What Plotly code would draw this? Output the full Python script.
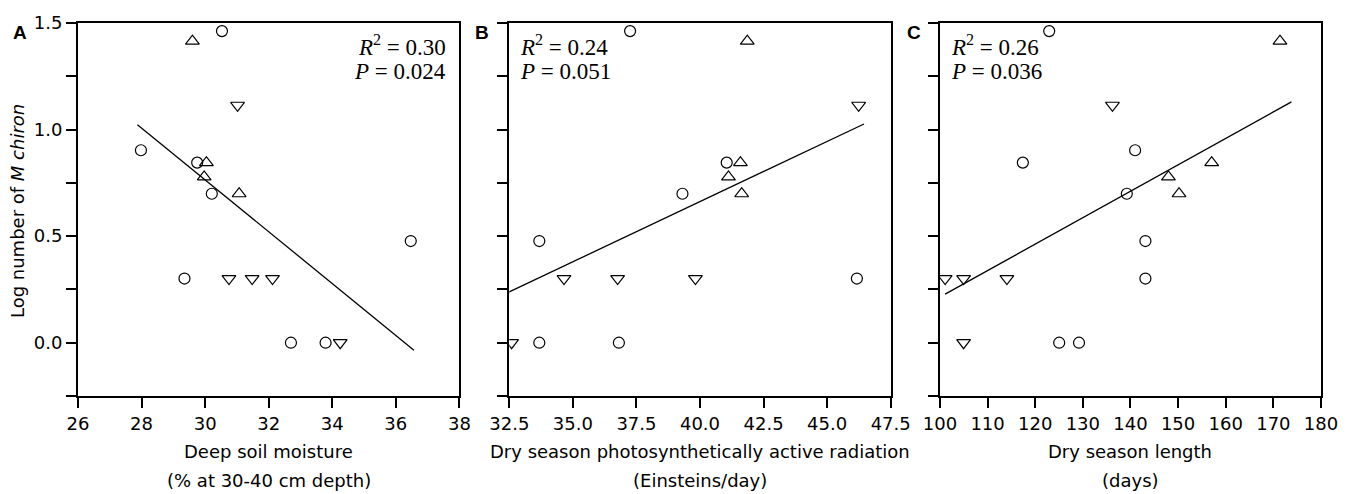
import plotly.graph_objects as go

# ---------------- data ----------------
# Panel A: deep soil moisture
a_circ_x = [30.53, 27.98, 29.75, 30.21, 36.47, 29.35, 32.70, 33.79]
a_circ_y = [1.462, 0.903, 0.845, 0.699, 0.477, 0.301, 0.0, 0.0]
a_up_x = [29.60, 30.04, 29.97, 31.07]
a_up_y = [1.415, 0.845, 0.778, 0.699]
a_dn_x = [31.02, 30.75, 31.48, 32.12, 34.25]
a_dn_y = [1.114, 0.301, 0.301, 0.301, 0.0]
a_fit_x = [27.87, 36.57]
a_fit_y = [1.023, -0.035]

# Panel B: dry season PAR
b_circ_x = [37.25, 41.05, 39.31, 33.68, 46.17, 33.68, 36.81]
b_circ_y = [1.462, 0.845, 0.699, 0.477, 0.301, 0.0, 0.0]
b_up_x = [41.86, 41.59, 41.12, 41.64]
b_up_y = [1.415, 0.845, 0.778, 0.699]
b_dn_x = [46.24, 34.65, 36.76, 39.82, 32.59]
b_dn_y = [1.114, 0.301, 0.301, 0.301, 0.0]
b_fit_x = [32.47, 46.45]
b_fit_y = [0.237, 1.026]

# Panel C: dry season length
c_circ_x = [122.94, 140.98, 117.41, 139.23, 143.14, 143.14, 125.04, 129.20]
c_circ_y = [1.462, 0.903, 0.845, 0.699, 0.477, 0.301, 0.0, 0.0]
c_up_x = [171.39, 157.05, 147.97, 150.20]
c_up_y = [1.415, 0.845, 0.778, 0.699]
c_dn_x = [136.22, 101.10, 104.97, 114.06, 104.97]
c_dn_y = [1.114, 0.301, 0.301, 0.301, 0.0]
c_fit_x = [101.1, 173.8]
c_fit_y = [0.228, 1.130]

panel_letters = ["A", "B", "C"]
stats_r2 = ["0.30", "0.24", "0.26"]
stats_p = ["0.024", "0.051", "0.036"]
x_titles = [("Deep soil moisture", "(% at 30-40 cm depth)"),
            ("Dry season photosynthetically active radiation", "(Einsteins/day)"),
            ("Dry season length", "(days)")]
x_ranges = [(26, 38, 2), (32.5, 47.5, 2.5), (100, 180, 10)]
x_tickformats = ["d", ".1f", "d"]
y_range = (-0.25, 1.5)
y_major_step = 0.5
y_minor_step = 0.25
y_title = "Log number of <i>M chiron</i>"

panels = [
    (a_circ_x, a_circ_y, a_up_x, a_up_y, a_dn_x, a_dn_y, a_fit_x, a_fit_y),
    (b_circ_x, b_circ_y, b_up_x, b_up_y, b_dn_x, b_dn_y, b_fit_x, b_fit_y),
    (c_circ_x, c_circ_y, c_up_x, c_up_y, c_dn_x, c_dn_y, c_fit_x, c_fit_y),
]

# ---------------- figure ----------------
W, H = 1353, 494
ML, MR, MT, MB = 78, 30, 15, 98
plot_w = W - ML - MR
plot_h = H - MT - MB
panel_px = [(78, 460), (510, 892), (941.3, 1323)]
domains = [[(l - ML) / plot_w, (r - ML) / plot_w] for l, r in panel_px]


def py2paper(py):
    return (H - MB - py) / plot_h


def px2paper(px):
    return (px - ML) / plot_w


SANS = "DejaVu Sans"
SERIF = "Liberation Serif"
TICK_SIZE = 18

fig = go.Figure()
for i, (cx, cy, ux, uy, dx, dy, fx, fy) in enumerate(panels):
    suf = "" if i == 0 else str(i + 1)
    xa, ya = "x" + suf, "y" + suf
    fig.add_trace(go.Scatter(x=fx, y=fy, mode="lines", xaxis=xa, yaxis=ya,
                             line=dict(color="black", width=1.3), showlegend=False))
    fig.add_trace(go.Scatter(x=cx, y=cy, mode="markers", xaxis=xa, yaxis=ya,
                             marker=dict(symbol="circle-open", size=11,
                                         color="black", line=dict(width=1.2)),
                             showlegend=False))
    fig.add_trace(go.Scatter(x=ux, y=uy, mode="markers", xaxis=xa, yaxis=ya,
                             marker=dict(symbol="triangle-up-open", size=12,
                                         color="black", line=dict(width=1.2)),
                             showlegend=False))
    fig.add_trace(go.Scatter(x=dx, y=dy, mode="markers", xaxis=xa, yaxis=ya,
                             marker=dict(symbol="triangle-down-open", size=12,
                                         color="black", line=dict(width=1.2)),
                             showlegend=False))

    x0, x1, dt = x_ranges[i]
    fig.update_layout(**{
        "xaxis" + suf: dict(domain=domains[i], range=[x0, x1], tick0=x0, dtick=dt,
                            tickformat=x_tickformats[i], ticks="outside", ticklen=10,
                            tickwidth=2, tickcolor="black", showline=True, linewidth=2,
                            linecolor="black", mirror=True, showgrid=False,
                            zeroline=False, anchor=ya,
                            tickfont=dict(family=SANS, size=TICK_SIZE, color="black")),
        "yaxis" + suf: dict(domain=[0, 1], range=list(y_range), tick0=0,
                            dtick=y_major_step, tickformat=".1f",
                            showticklabels=(i == 0),
                            ticks="outside", ticklen=10, tickwidth=2,
                            tickcolor="black", showline=True, linewidth=2,
                            linecolor="black", mirror=True, showgrid=False,
                            zeroline=False, anchor=xa,
                            minor=dict(tick0=0, dtick=y_minor_step, ticks="outside",
                                       ticklen=10, tickwidth=2, tickcolor="black",
                                       showgrid=False),
                            tickfont=dict(family=SANS, size=TICK_SIZE, color="black")),
    })

    lines = ["<i>R</i><sup>2</sup> = " + stats_r2[i], "<i>P</i> = " + stats_p[i]]
    for line_txt, py in zip(lines, (38, 65)):
        if i == 0:
            fig.add_annotation(xref=xa + " domain", yref="paper", x=0.97, y=py2paper(py),
                               xanchor="right", yanchor="middle", text=line_txt,
                               showarrow=False,
                               font=dict(family=SERIF, size=23, color="black"))
        else:
            fig.add_annotation(xref=xa + " domain", yref="paper", x=0.024, y=py2paper(py),
                               xanchor="left", yanchor="middle", text=line_txt,
                               showarrow=False,
                               font=dict(family=SERIF, size=23, color="black"))

    # panel letter
    letter_x = [20, 483, 915][i]
    fig.add_annotation(xref="paper", yref="paper", x=px2paper(letter_x),
                       y=py2paper(25), xanchor="center", yanchor="middle",
                       text="<b>" + panel_letters[i] + "</b>", showarrow=False,
                       font=dict(family="Liberation Sans", size=19, color="black"))

    # x axis titles (two lines)
    for line_txt, py in zip(x_titles[i], (453, 482)):
        fig.add_annotation(xref=xa + " domain", yref="paper", x=0.5,
                           y=py2paper(py), xanchor="center", yanchor="middle",
                           text=line_txt, showarrow=False,
                           font=dict(family=SANS, size=18, color="black"))

# y axis title
fig.add_annotation(xref="paper", yref="paper", x=px2paper(18),
                   y=py2paper(207), xanchor="center", yanchor="middle",
                   text=y_title, textangle=-90, showarrow=False,
                   font=dict(family=SANS, size=18, color="black"))

fig.update_layout(width=W, height=H, margin=dict(l=ML, r=MR, t=MT, b=MB),
                  plot_bgcolor="white", paper_bgcolor="white", showlegend=False)

fig.write_html("out.html", config={"displayModeBar": False},
               post_script="document.body.style.margin='0';"
                           "document.body.style.padding='0';"
                           "document.body.style.overflow='hidden';")
